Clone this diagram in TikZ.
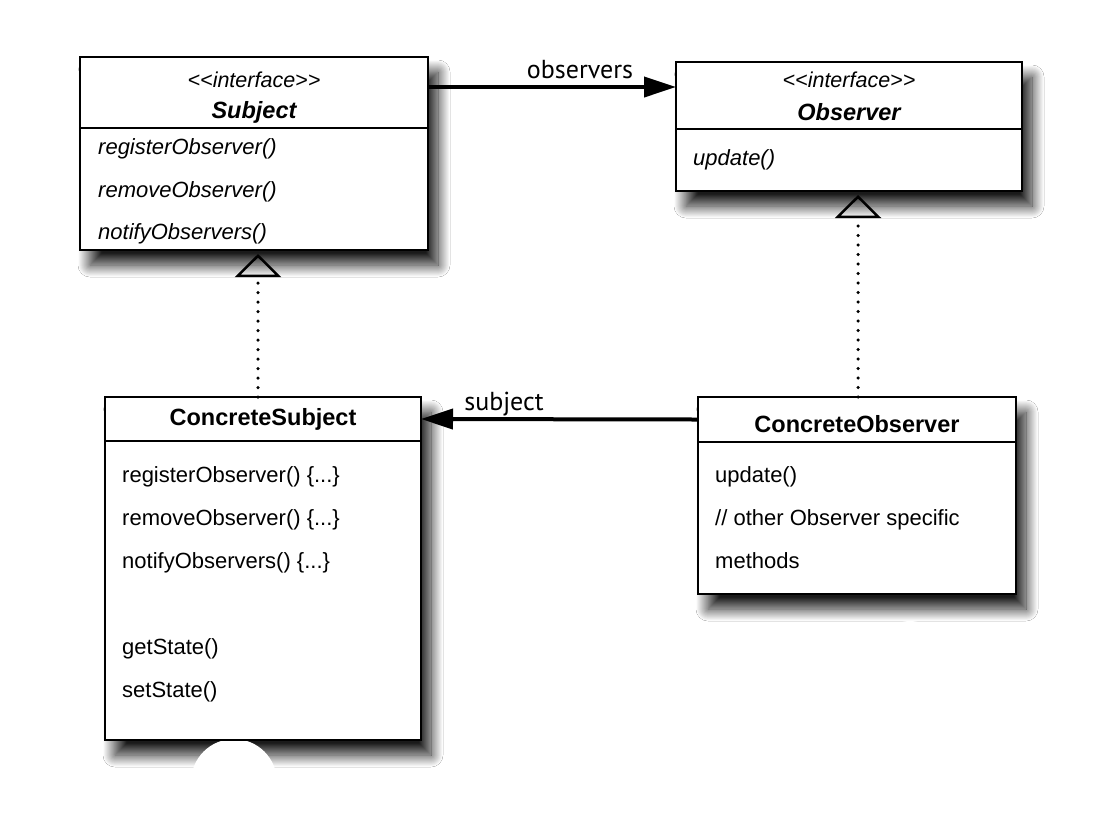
\documentclass[tikz,border=0pt]{standalone}
\usepackage{fontspec}
\newfontfamily\umlfont{Liberation Sans}
\newfontfamily\rolefont{PT Sans}
\usetikzlibrary{arrows.meta,calc,fit,positioning,backgrounds,shadows.blur}
\tikzset{
	classhead/.style={draw, line width=1.4pt, outer sep=0pt, inner sep=0pt, anchor=north west},
	classbody/.style={draw, line width=1.4pt, outer sep=0pt, inner sep=0pt},
	shadowbox/.style={fill=white, inner sep=0pt,
		blur shadow={shadow xshift=10pt, shadow yshift=-15pt, shadow blur radius=12pt,
			shadow blur steps=24, shadow opacity=90}},
	blob/.style={fill=white},
	stereo/.style={anchor=base, inner sep=0pt, font=\umlfont\fontsize{21.5}{25}\selectfont\itshape},
	classname/.style={anchor=base, inner sep=0pt, font=\umlfont\fontsize{23.5}{28}\selectfont\bfseries},
	members/.style={anchor=north west, align=left, inner sep=0pt, font=\umlfont\fontsize{22}{43}\selectfont},
	assoc/.style={line width=4pt, -{Triangle[length=32pt,width=20pt]}},
	realize/.style={line width=3.5pt, dash pattern=on 0pt off 9.5pt, line cap=round,
		-{Triangle[open, length=23pt, width=46pt, line width=2.5pt]}, shorten >=4pt},
	rolename/.style={anchor=base, inner sep=0pt, font=\rolefont\fontsize{26}{30}\selectfont}
}
\begin{document}
\begin{tikzpicture}[x=1pt, y=-1pt]
	\useasboundingbox (0,0) rectangle (1110,815);
	\begin{scope}[on background layer]
		\fill[white] (0,0) rectangle (1110,815);
	\end{scope}
	% interfaces
	\node[classhead, minimum width=348, minimum height=71] (subjhead) at (80,57) {};
	\node[classbody, minimum width=348, minimum height=122, below=0pt of subjhead] (subjbody) {};
	\node[stereo] (subjstereo) at ($(subjhead.north)+(0,30)$) {<<interface>>};
	\node[classname] (subjname) at ($(subjhead.north)+(0,61)$) {\itshape Subject};
	\node[members] (subjops) at ($(subjbody.north west)+(18,10)$)
		{\itshape registerObserver()\\ \itshape removeObserver()\\[-1pt] \itshape notifyObservers()};

	\node[classhead, minimum width=346, minimum height=67] (obshead) at (676,62) {};
	\node[classbody, minimum width=346, minimum height=62, below=0pt of obshead] (obsbody) {};
	\node[stereo] (obsstereo) at ($(obshead.north)+(0,25)$) {<<interface>>};
	\node[classname] (obsname) at ($(obshead.north)+(0,58)$) {\itshape Observer};
	\node[members] (obsops) at ($(obsbody.north west)+(17,20)$) {\itshape update()};

	% concrete classes
	\node[classhead, minimum width=316, minimum height=44] (csubjhead) at (105,397) {};
	\node[classbody, minimum width=316, minimum height=299, below=0pt of csubjhead] (csubjbody) {};
	\node[classname] (csubjname) at ($(csubjhead.north)+(0,28)$) {ConcreteSubject};
	\node[members] (csubjops) at ($(csubjbody.north west)+(17,25)$)
		{registerObserver() \{...\}\\ removeObserver() \{...\}\\ notifyObservers() \{...\}\\[43pt]
		 getState()\\ setState()};

	\node[classhead, minimum width=318, minimum height=45] (cobshead) at (698,397) {};
	\node[classbody, minimum width=318, minimum height=152, below=0pt of cobshead] (cobsbody) {};
	\node[classname] (cobsname) at ($(cobshead.north)+(0,35)$) {ConcreteObserver};
	\node[members] (cobsops) at ($(cobsbody.north west)+(17,24)$)
		{update()\\ // other Observer specific\\ methods};

	% shadows, with the white patches that cut into them
	\begin{scope}[on background layer]
		\node[shadowbox, fit=(subjhead)(subjbody)] {};
		\node[shadowbox, fit=(obshead)(obsbody)] {};
		\node[shadowbox, fit=(csubjhead)(csubjbody)] {};
		\node[shadowbox, fit=(cobshead)(cobsbody)] {};
		\fill[blob] (234,782) circle[radius=43];
		\fill[blob] (1096,125) circle[radius=48];
		\fill[blob] (910,652) circle[radius=31];
	\end{scope}

	% connectors
	\coordinate (obslevel) at (0,87);
	\coordinate (leftaxis) at (258,0);
	\coordinate (rightaxis) at (858,0);
	\draw[assoc] (subjhead.east |- obslevel) -- (obshead.west |- obslevel);
	\draw[assoc] (cobshead.west) -- (csubjhead.east);
	\draw[realize] (leftaxis |- csubjhead.north) -- (leftaxis |- subjbody.south);
	\draw[realize] (rightaxis |- cobshead.north) -- (rightaxis |- obsbody.south);
	\node[rolename] (obsrole) at (580,78) {observers};
	\node[rolename] (subjrole) at (504,410) {subject};
\end{tikzpicture}
\end{document}
